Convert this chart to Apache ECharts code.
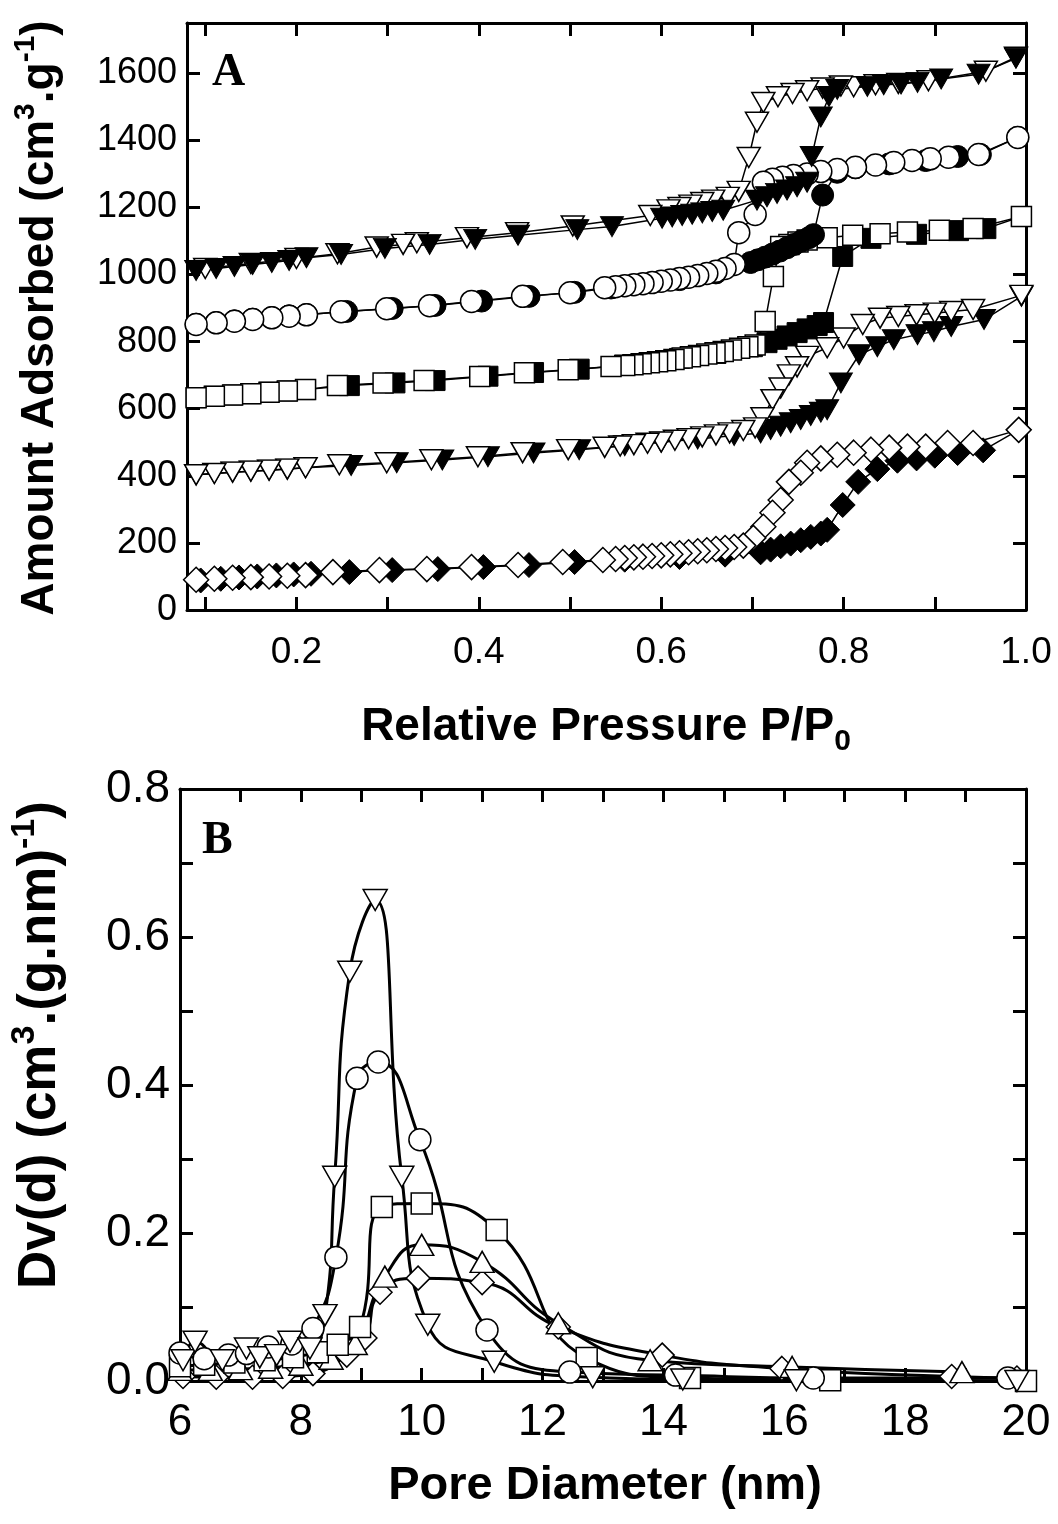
<!DOCTYPE html>
<html>
<head>
<meta charset="utf-8">
<script src="https://cdn.jsdelivr.net/npm/echarts@6/dist/echarts.min.js"></script>
<style>
  html, body { margin: 0; background: #fff; }
  #chart { width: 1058px; height: 1524px; }
</style>
</head>
<body>
<div id="chart"></div>
<script>
// ---- panel A : isotherms (adsorption = filled, desorption = open) ----
const triTopAdsX = [0.09, 0.112, 0.132, 0.152, 0.173, 0.192, 0.211, 0.249, 0.297, 0.346, 0.396, 0.443, 0.508, 0.546, 0.601, 0.612, 0.623, 0.634, 0.645, 0.656, 0.668, 0.705, 0.716, 0.727, 0.738, 0.749, 0.760, 0.765, 0.775, 0.784, 0.793, 0.826, 0.844, 0.863, 0.881, 0.907, 0.948, 0.989];
const triTopAdsY = [1012, 1018, 1024, 1030, 1036, 1042, 1050, 1060, 1078, 1090, 1105, 1117, 1134, 1143, 1168, 1172, 1176, 1180, 1184, 1188, 1192, 1222, 1232, 1242, 1252, 1262, 1275, 1352, 1470, 1531, 1552, 1561, 1566, 1568, 1573, 1583, 1597, 1645];
const triTopDesX = [0.989, 0.956, 0.893, 0.86, 0.835, 0.811, 0.797, 0.777, 0.760, 0.744, 0.728, 0.712, 0.705, 0.696, 0.685, 0.673, 0.657, 0.645, 0.632, 0.62, 0.608, 0.588, 0.503, 0.442, 0.387, 0.332, 0.317, 0.288, 0.245, 0.2, 0.15, 0.1];
const triTopDesY = [1648, 1606, 1578, 1570, 1566, 1560, 1562, 1556, 1548, 1540, 1530, 1513, 1454, 1349, 1248, 1230, 1222, 1215, 1207, 1200, 1193, 1176, 1145, 1125, 1110, 1095, 1090, 1082, 1062, 1048, 1033, 1018];

const circAdsX = [0.09, 0.112, 0.132, 0.152, 0.173, 0.192, 0.211, 0.255, 0.305, 0.352, 0.403, 0.455, 0.505, 0.545, 0.62, 0.66, 0.698, 0.706, 0.714, 0.722, 0.730, 0.738, 0.746, 0.754, 0.762, 0.767, 0.777, 0.793, 0.813, 0.85, 0.89, 0.925, 0.95, 0.991];
const circAdsY = [852, 857, 862, 867, 872, 877, 881, 890, 899, 908, 921, 935, 947, 960, 985, 1005, 1036, 1044, 1052, 1061, 1070, 1080, 1090, 1100, 1110, 1119, 1237, 1305, 1318, 1330, 1340, 1352, 1358, 1409];
const circDesX = [0.991, 0.948, 0.915, 0.895, 0.875, 0.855, 0.835, 0.813, 0.793, 0.775, 0.76, 0.745, 0.733, 0.722, 0.712, 0.703, 0.685, 0.68, 0.67, 0.66, 0.65, 0.64, 0.63, 0.62, 0.61, 0.6, 0.59, 0.58, 0.57, 0.56, 0.55, 0.538, 0.5, 0.448, 0.392, 0.346, 0.299, 0.249, 0.211, 0.192, 0.173, 0.152, 0.132, 0.112, 0.09];
const circDesY = [1409, 1358, 1350, 1345, 1340, 1334, 1327, 1320, 1313, 1307, 1300, 1295, 1290, 1284, 1275, 1179, 1125, 1030, 1018, 1010, 1003, 997, 992, 988, 984, 980, 976, 973, 970, 967, 964, 961, 946, 935, 920, 907, 898, 889, 880, 876, 871, 866, 861, 856, 851];

const sqAdsX = [0.09, 0.11, 0.13, 0.15, 0.17, 0.19, 0.21, 0.258, 0.308, 0.352, 0.41, 0.46, 0.51, 0.56, 0.62, 0.66, 0.70, 0.716, 0.727, 0.738, 0.749, 0.760, 0.771, 0.778, 0.799, 0.83, 0.88, 0.926, 0.956, 0.995];
const sqAdsY = [633, 637, 641, 645, 649, 653, 657, 669, 677, 684, 697, 708, 718, 730, 750, 765, 785, 797, 807, 817, 827, 838, 848, 857, 1054, 1108, 1120, 1131, 1137, 1173];
const sqDesX = [0.995, 0.942, 0.905, 0.87, 0.84, 0.81, 0.782, 0.760, 0.750, 0.740, 0.731, 0.723, 0.714, 0.703, 0.695, 0.686, 0.677, 0.668, 0.659, 0.65, 0.641, 0.632, 0.623, 0.614, 0.605, 0.596, 0.587, 0.578, 0.569, 0.56, 0.545, 0.498, 0.45, 0.401, 0.34, 0.295, 0.245, 0.21, 0.19, 0.17, 0.15, 0.13, 0.11, 0.09];
const sqDesY = [1173, 1137, 1132, 1127, 1122, 1117, 1110, 1103, 1097, 1090, 1084, 994, 860, 790, 785, 780, 775, 771, 767, 763, 759, 755, 751, 747, 743, 740, 737, 734, 731, 729, 726, 716, 707, 696, 684, 677, 669, 657, 653, 649, 645, 641, 637, 633];

const triLowAdsX = [0.09, 0.11, 0.13, 0.15, 0.17, 0.19, 0.21, 0.26, 0.31, 0.36, 0.41, 0.46, 0.51, 0.56, 0.60, 0.64, 0.68, 0.709, 0.72, 0.731, 0.742, 0.753, 0.764, 0.775, 0.782, 0.797, 0.817, 0.837, 0.855, 0.881, 0.899, 0.918, 0.954, 0.995];
const triLowAdsY = [403, 407, 411, 414, 417, 420, 424, 431, 439, 447, 457, 468, 478, 490, 500, 510, 520, 528, 538, 548, 558, 568, 580, 590, 597, 677, 761, 785, 806, 821, 830, 845, 866, 935];
const triLowDesX = [0.995, 0.942, 0.918, 0.9, 0.88, 0.86, 0.84, 0.821, 0.8, 0.782, 0.76, 0.749, 0.74, 0.731, 0.722, 0.711, 0.703, 0.69, 0.675, 0.66, 0.645, 0.63, 0.615, 0.6, 0.585, 0.57, 0.555, 0.538, 0.498, 0.448, 0.399, 0.348, 0.299, 0.247, 0.21, 0.19, 0.17, 0.15, 0.13, 0.11, 0.09];
const triLowDesY = [938, 896, 890, 885, 880, 875, 870, 851, 811, 782, 756, 725, 701, 662, 627, 573, 543, 535, 528, 522, 516, 511, 506, 501, 497, 493, 489, 485, 478, 469, 457, 448, 439, 433, 424, 420, 417, 414, 411, 407, 403];

const diaAdsX = [0.095, 0.117, 0.137, 0.157, 0.178, 0.197, 0.216, 0.258, 0.305, 0.355, 0.405, 0.455, 0.505, 0.56, 0.62, 0.67, 0.709, 0.72, 0.731, 0.742, 0.753, 0.764, 0.775, 0.782, 0.799, 0.816, 0.837, 0.859, 0.88, 0.9, 0.925, 0.953, 0.992];
const diaAdsY = [88, 93, 97, 100, 103, 106, 108, 113, 119, 122, 128, 134, 143, 150, 158, 165, 172, 180, 190, 198, 208, 218, 228, 239, 313, 382, 420, 445, 452, 460, 468, 476, 537];
const diaDesX = [0.992, 0.942, 0.914, 0.89, 0.87, 0.85, 0.83, 0.811, 0.793, 0.775, 0.76, 0.753, 0.74, 0.731, 0.722, 0.712, 0.701, 0.69, 0.68, 0.67, 0.66, 0.65, 0.64, 0.63, 0.62, 0.61, 0.6, 0.59, 0.58, 0.57, 0.56, 0.55, 0.536, 0.492, 0.443, 0.392, 0.343, 0.291, 0.24, 0.21, 0.19, 0.17, 0.15, 0.13, 0.11, 0.09];
const diaDesY = [537, 498, 498, 487, 487, 484, 478, 469, 463, 452, 439, 409, 382, 328, 290, 248, 215, 192, 188, 185, 182, 178, 175, 172, 169, 166, 163, 161, 159, 157, 155, 152, 149, 143, 134, 128, 122, 119, 113, 104, 102, 100, 98, 96, 93, 90];

// ---- panel B : pore size distributions ----
const psdTriDownX = [6.05, 6.25, 6.7, 7.1, 7.32, 7.6, 7.82, 8.15, 8.4, 8.56, 8.81, 9.23, 9.67, 10.1, 11.2, 12.83, 14.32, 16.2, 19.85];
const psdTriDownY = [0.028, 0.053, 0.028, 0.044, 0.032, 0.035, 0.053, 0.044, 0.089, 0.276, 0.553, 0.65, 0.276, 0.076, 0.026, 0.005, 0.002, 0.001, 0.0];
const psdCircX = [6.0, 6.4, 6.8, 7.1, 7.46, 7.85, 8.2, 8.58, 8.93, 9.28, 9.97, 11.08, 12.45, 14.2, 16.48, 19.7];
const psdCircY = [0.038, 0.03, 0.035, 0.037, 0.046, 0.05, 0.071, 0.167, 0.409, 0.431, 0.326, 0.069, 0.012, 0.008, 0.004, 0.004];
const psdSqX = [6.0, 6.4, 6.9, 7.4, 7.87, 8.28, 8.61, 8.98, 9.34, 10.0, 11.24, 12.73, 14.44, 16.76, 20.0];
const psdSqY = [0.02, 0.022, 0.025, 0.028, 0.032, 0.039, 0.049, 0.073, 0.235, 0.24, 0.204, 0.031, 0.004, 0.001, 0.0];
const psdTriUpX = [6.0, 6.5, 7.0, 7.5, 8.0, 8.5, 8.9, 9.39, 10.0, 11.0, 12.26, 13.78, 16.13, 18.94];
const psdTriUpY = [0.015, 0.015, 0.016, 0.018, 0.022, 0.03, 0.05, 0.141, 0.184, 0.161, 0.078, 0.028, 0.019, 0.012];
const psdDiaX = [6.05, 6.6, 7.2, 7.7, 8.2, 8.76, 9.06, 9.31, 9.94, 11.0, 12.26, 13.98, 15.96, 18.77, 19.85];
const psdDiaY = [0.006, 0.005, 0.005, 0.006, 0.01, 0.035, 0.058, 0.12, 0.139, 0.133, 0.073, 0.035, 0.017, 0.006, 0.004];

// tick / label positions
const aTicksX = [0.1, 0.2, 0.3, 0.4, 0.5, 0.6, 0.7, 0.8, 0.9, 1.0];
const aLabelsX = [0.2, 0.4, 0.6, 0.8, 1.0];
const aTicksY = [0, 200, 400, 600, 800, 1000, 1200, 1400, 1600];
const bTicksX = [6, 7, 8, 9, 10, 11, 12, 13, 14, 15, 16, 17, 18, 19, 20];
const bLabelsX = [6, 8, 10, 12, 14, 16, 18, 20];
const bTicksY = [0, 0.1, 0.2, 0.3, 0.4, 0.5, 0.6, 0.7, 0.8];
const bLabelsY = [0, 0.2, 0.4, 0.6, 0.8];

const FONT = '"Liberation Sans", Arial, sans-serif';

function zip(xs, ys) {
  return xs.map((x, i) => [x, ys[i]]);
}

const open = {color: '#fff', borderColor: '#000', borderWidth: 1.5};
const filled = {color: '#000', borderColor: '#000', borderWidth: 1};

function ax(gridIndex, min, max, position, ticks, labels, fmt, showLabel, margin, fs) {
  return {
    type: 'value', gridIndex: gridIndex, min: min, max: max, position: position,
    axisLine: {show: true, onZero: false, lineStyle: {color: '#000', width: 3}},
    axisTick: {show: true, inside: true, length: 13, customValues: ticks, lineStyle: {color: '#000', width: 3}},
    axisLabel: {
      show: showLabel, customValues: labels, margin: margin,
      color: '#000', fontSize: fs || 36, fontFamily: FONT, formatter: fmt
    },
    splitLine: {show: false}
  };
}

const fmt1 = v => v.toFixed(1);
const fmt0 = v => String(Math.round(v));

// panel A line series
function isoSeries(xs, ys, symbol, size, style, rotate) {
  return {
    type: 'line', xAxisIndex: 0, yAxisIndex: 0,
    data: zip(xs, ys),
    symbol: symbol, symbolSize: size, symbolRotate: rotate || 0,
    showAllSymbol: true, clip: false,
    lineStyle: {color: '#000', width: 1.5},
    itemStyle: style,
    animation: false
  };
}

// panel B smoothed series
function psdSeries(xs, ys, symbol, size, rotate) {
  return {
    type: 'line', xAxisIndex: 2, yAxisIndex: 2,
    data: zip(xs, ys),
    smooth: 0.5,
    symbol: symbol, symbolSize: size, symbolRotate: rotate || 0,
    showAllSymbol: true, clip: false,
    lineStyle: {color: '#000', width: 3},
    itemStyle: open,
    animation: false
  };
}

const chart = echarts.init(document.getElementById('chart'), null, {renderer: 'canvas'});

chart.setOption({
  backgroundColor: '#fff',
  animation: false,
  grid: [
    {left: 187, top: 23, width: 839, height: 587},
    {left: 180, top: 789, width: 846, height: 592}
  ],
  xAxis: [
    ax(0, 0.08, 1.0, 'bottom', aTicksX, aLabelsX, fmt1, true, 24, 37),
    ax(0, 0.08, 1.0, 'top', aTicksX, aLabelsX, fmt1, false, 8),
    ax(1, 6, 20, 'bottom', bTicksX, bLabelsX, fmt0, true, 20, 44),
    ax(1, 6, 20, 'top', bTicksX, bLabelsX, fmt0, false, 8)
  ],
  yAxis: [
    ax(0, 0, 1750, 'left', aTicksY, aTicksY, fmt0, true, 10, 36),
    ax(0, 0, 1750, 'right', aTicksY, aTicksY, fmt0, false, 8),
    ax(1, 0, 0.8, 'left', bTicksY, bLabelsY, fmt1, true, 10, 46),
    ax(1, 0, 0.8, 'right', bTicksY, bLabelsY, fmt1, false, 8)
  ],
  series: [
    isoSeries(diaAdsX, diaAdsY, 'diamond', [25, 25], filled),
    isoSeries(diaDesX, diaDesY, 'diamond', [25, 25], open),
    isoSeries(triLowAdsX, triLowAdsY, 'triangle', [23, 20], filled, 180),
    isoSeries(triLowDesX, triLowDesY, 'triangle', [23, 20], open, 180),
    isoSeries(sqAdsX, sqAdsY, 'rect', 20, filled),
    isoSeries(sqDesX, sqDesY, 'rect', 20, open),
    isoSeries(circAdsX, circAdsY, 'circle', 22, filled),
    isoSeries(circDesX, circDesY, 'circle', 22, open),
    isoSeries(triTopDesX, triTopDesY, 'triangle', [23, 20], open, 180),
    isoSeries(triTopAdsX, triTopAdsY, 'triangle', [23, 20], filled, 180),

    psdSeries(psdDiaX, psdDiaY, 'diamond', [24, 24]),
    psdSeries(psdTriUpX, psdTriUpY, 'triangle', [24, 21]),
    psdSeries(psdSqX, psdSqY, 'rect', 21),
    psdSeries(psdCircX, psdCircY, 'circle', 22),
    psdSeries(psdTriDownX, psdTriDownY, 'triangle', [24, 21], 180)
  ],
  graphic: [
    {type: 'text', left: 212, top: 50, style: {text: 'A', font: 'bold 46px "Liberation Serif", "Times New Roman", serif', fill: '#000'}},
    {type: 'text', left: 202, top: 818, style: {text: 'B', font: 'bold 46px "Liberation Serif", "Times New Roman", serif', fill: '#000'}},
    {
      type: 'text', x: 40, y: 318, rotation: Math.PI / 2,
      style: {
        text: 'Amount Adsorbed (cm{sup|3}.g{sup|-1})',
        fontSize: 46, fontWeight: 'bold', fontFamily: FONT, fill: '#000',
        align: 'center', verticalAlign: 'middle', lineHeight: 58,
        rich: {sup: {fontSize: 30, fontWeight: 'bold', fontFamily: FONT, verticalAlign: 'top', lineHeight: 58}}
      }
    },
    {
      type: 'text', x: 40, y: 1045, rotation: Math.PI / 2,
      style: {
        text: 'Dv(d) (cm{sup|3}.(g.nm){sup|-1})',
        fontSize: 53, fontWeight: 'bold', fontFamily: FONT, fill: '#000',
        align: 'center', verticalAlign: 'middle', lineHeight: 64,
        rich: {sup: {fontSize: 34, fontWeight: 'bold', fontFamily: FONT, verticalAlign: 'top', lineHeight: 64}}
      }
    },
    {
      type: 'text', x: 606, y: 727,
      style: {
        text: 'Relative Pressure P/P{sub|0}',
        fontSize: 46, fontWeight: 'bold', fontFamily: FONT, fill: '#000',
        align: 'center', verticalAlign: 'middle', lineHeight: 60,
        rich: {sub: {fontSize: 30, fontWeight: 'bold', fontFamily: FONT, verticalAlign: 'bottom', lineHeight: 60}}
      }
    },
    {
      type: 'text', x: 605, y: 1486,
      style: {
        text: 'Pore Diameter (nm)',
        fontSize: 47, fontWeight: 'bold', fontFamily: FONT, fill: '#000',
        align: 'center', verticalAlign: 'middle'
      }
    }
  ]
});
</script>
</body>
</html>
